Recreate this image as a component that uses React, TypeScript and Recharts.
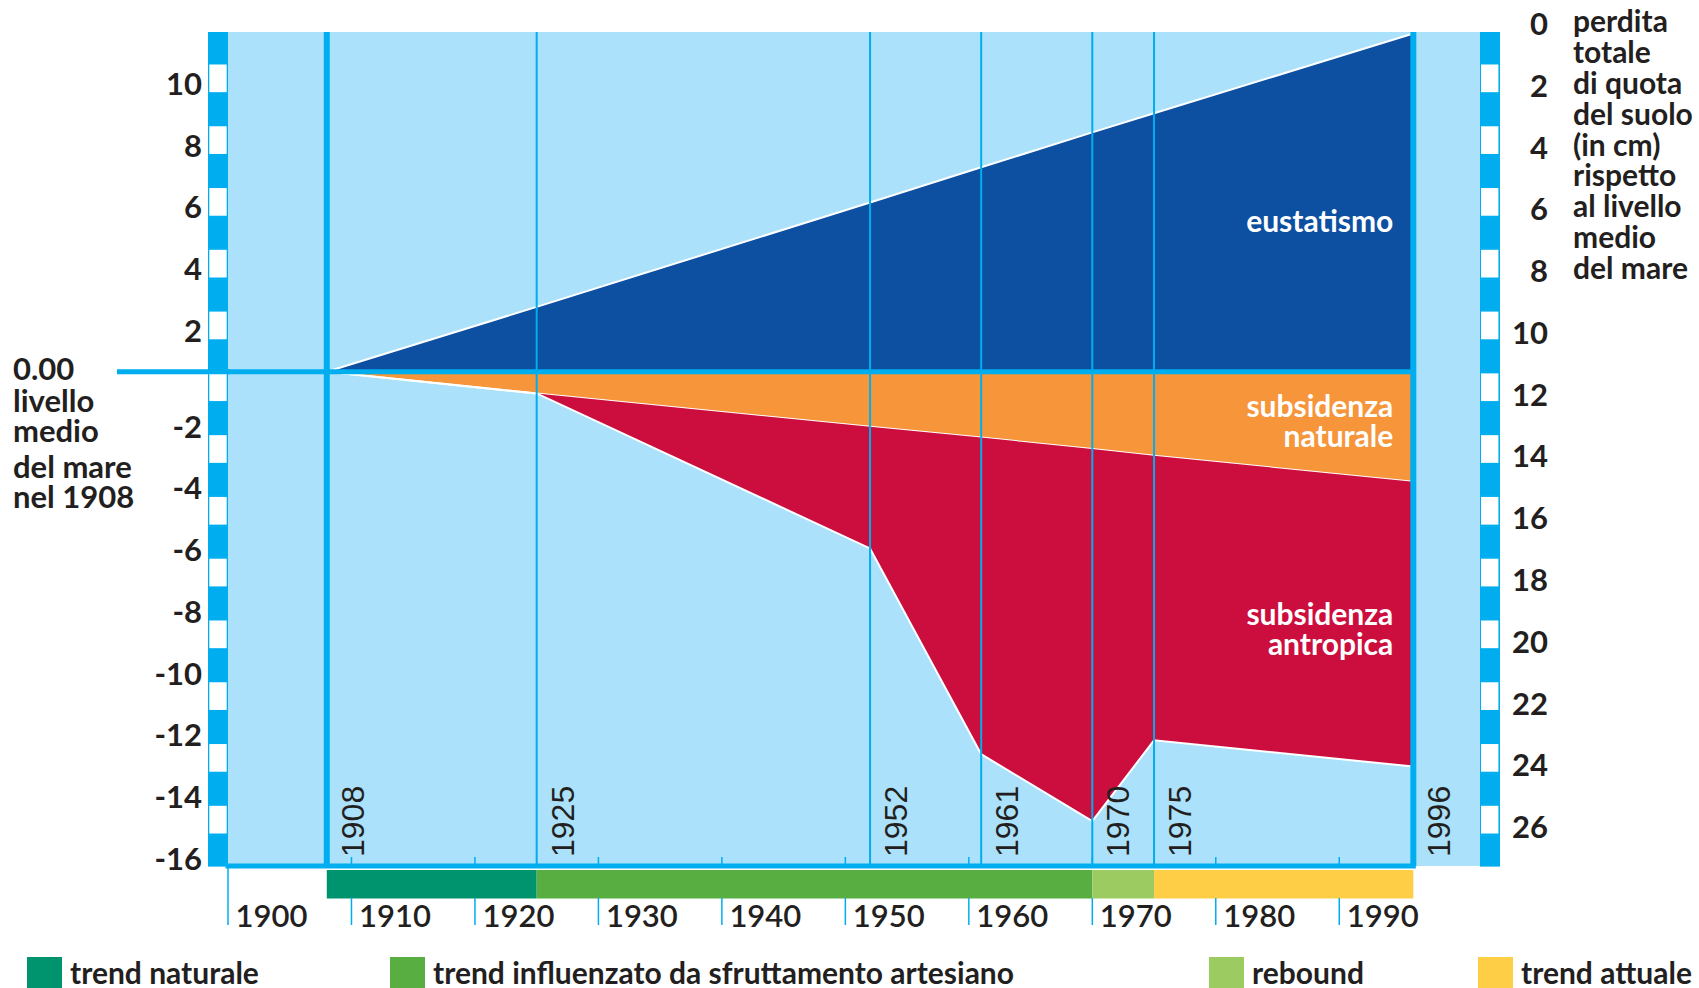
import React from 'react';
import {
  ComposedChart,
  Area,
  XAxis,
  YAxis,
  CartesianGrid,
  ReferenceLine,
  ReferenceArea,
  ReferenceDot,
} from 'recharts';

// ---------------- data ----------------
const YEARS = [1908, 1925, 1952, 1961, 1970, 1975, 1996];
const EUSTATISMO = [0, 2.1, 5.48, 6.62, 7.75, 8.37, 10.95];
const SUBS_NATURALE = [0, -0.7, -1.78, -2.13, -2.5, -2.72, -3.56];
const SUBS_ANTROPICA = [0, 0, -3.94, -10.25, -12.05, -9.21, -9.22];

const X_TICKS = [1900, 1910, 1920, 1930, 1940, 1950, 1960, 1970, 1980, 1990];
const LEFT_TICKS = [10, 8, 6, 4, 2, 0, -2, -4, -6, -8, -10, -12, -14, -16];
const RIGHT_TICKS = [0, 2, 4, 6, 8, 10, 12, 14, 16, 18, 20, 22, 24, 26];
const STRIPE_TICKS = [-16, -15, -14, -13, -12, -11, -10, -9, -8, -7, -6, -5, -4, -3, -2, -1, 0, 1, 2, 3, 4, 5, 6, 7, 8, 9, 10];
const ZERO_LABEL_LINES = ['0.00', 'livello', 'medio', 'del mare', 'nel 1908'];
const RIGHT_TITLE_LINES = ['perdita', 'totale', 'di quota', 'del suolo', '(in cm)', 'rispetto', 'al livello', 'medio', 'del mare'];
const MARKED_YEARS = [1908, 1925, 1952, 1961, 1970, 1975, 1996];
const THICK_YEARS = [1908, 1996];

const SERIES_LABELS = [['eustatismo'], ['subsidenza', 'naturale'], ['subsidenza', 'antropica']];

const PERIOD_LABELS = ['trend naturale', 'trend influenzato da sfruttamento artesiano', 'rebound', 'trend attuale'];
const PERIOD_START = [1908, 1925, 1970, 1975];
const PERIOD_END = [1925, 1970, 1975, 1996];

// ---------------- layout / style ----------------
const CW = 1699;
const CH = 988;
const TOP = 32;
const XAXIS_H = 122;
const Y_MIN = -16;
const Y_MAX = 11;
const X_MIN = 1900;
const X_MAX = 2001.4;
const UNIT = (CH - TOP - XAXIS_H) / (Y_MAX - Y_MIN);
const SERIES_LABEL_Y = [4.54, -1.45, -8.2];
const BAR_Y = [-16.13, -17.05];
const LEGEND_LEFT = [27, 390, 1209, 1478];

const FONT = "Lato, 'Noto Sans', sans-serif";
const TEXT = '#231F20';
const LIGHT = '#ABE1FA';
const CYAN = '#00AEEF';
const BLUE = '#0D4FA1';
const ORANGE = '#F6953A';
const RED = '#CC0E3E';
const PERIOD_COLORS = ['#00946E', '#58AE41', '#9CCB61', '#FFCE47'];

// ---------------- tick renderers ----------------
const StripeTick = (props: any) => {
  const { x, y, payload, side } = props;
  const v = payload.value;
  const white = Math.abs(v) % 2 === 1;
  const x0 = side === 'left' ? x - 20 : x;
  const inset = side === 'left' ? 1.3 : 1;
  return (
    <g>
      <rect x={x0} y={y - UNIT} width={20} height={UNIT + 0.6} fill={CYAN} />
      {white && <rect x={x0 + inset} y={y - UNIT + 1.6} width={17.4} height={UNIT - 3.2} fill="#fff" />}
    </g>
  );
};

const LeftLabelTick = (props: any) => {
  const { x, y, payload } = props;
  const v = payload.value;
  if (v === 0) {
    const offs = [8.2, 40.2, 69.9, 106.5, 136.5];
    return (
      <g>
        <line x1={x - 91} x2={x + 22} y1={y} y2={y} stroke={CYAN} strokeWidth={5} />
        {ZERO_LABEL_LINES.map((t, i) => (
          <text key={t} x={x - 195} y={y + offs[i]} fontFamily={FONT} fontWeight={700} fontSize={31} fill={TEXT}>
            {t}
          </text>
        ))}
      </g>
    );
  }
  return (
    <text x={x - 6} y={y + (v > 0 ? 32 : 4)} textAnchor="end" fontFamily={FONT} fontWeight={700} fontSize={31} fill={TEXT}>
      {String(v)}
    </text>
  );
};

const RightLabelTick = (props: any) => {
  const { x, y, payload } = props;
  const v = payload.value;
  return (
    <g>
      <text x={x + 48} y={y + 3} textAnchor="end" fontFamily={FONT} fontWeight={700} fontSize={31} fill={TEXT}>
        {String(v)}
      </text>
      {v === 0 &&
        RIGHT_TITLE_LINES.map((t, i) => (
          <text key={t} x={x + 73} y={y - 0.3 + i * 30.95} fontFamily={FONT} fontWeight={700} fontSize={30} fill={TEXT}>
            {t}
          </text>
        ))}
    </g>
  );
};

const XTick = (props: any) => {
  const { x, y, payload } = props;
  const v = payload.value;
  const inBar = v >= PERIOD_START[0] && v <= PERIOD_END[PERIOD_END.length - 1];
  return (
    <g>
      {v !== X_TICKS[0] && <line x1={x} x2={x} y1={y - 9} y2={y} stroke={CYAN} strokeWidth={1.5} />}
      <line x1={x} x2={x} y1={inBar ? y + 32 : y} y2={y + 59} stroke={CYAN} strokeWidth={1.5} />
      <text x={x + 7.5} y={y + 61.3} fontFamily={FONT} fontWeight={600} fontSize={31} fill={TEXT}>
        {String(v)}
      </text>
    </g>
  );
};

const YearLabel = (props: any) => {
  const vb = props.viewBox || {};
  const bx = vb.x + 37;
  const by = vb.y + vb.height - 9;
  return (
    <text
      x={bx}
      y={by}
      transform={`rotate(-90, ${bx}, ${by})`}
      fontFamily="'Liberation Sans', Arial, sans-serif"
      fontSize={32}
      fill={TEXT}
    >
      {props.text}
    </text>
  );
};

const SeriesLabel = (props: any) => {
  const vb = props.viewBox || {};
  const lines: string[] = props.lines;
  return (
    <text x={vb.x - 20} y={vb.y} textAnchor="end" fontFamily={FONT} fontWeight={700} fontSize={30} fill="#fff">
      {lines.map((t, i) => (
        <tspan key={i} x={vb.x - 20} dy={i === 0 ? 0 : 30}>
          {t}
        </tspan>
      ))}
    </text>
  );
};

export default function App() {
  const data = YEARS.map((year, i) => ({
    year,
    eustatismo: EUSTATISMO[i],
    naturale: SUBS_NATURALE[i],
    antropica: SUBS_ANTROPICA[i],
  }));

  return (
    <div style={{ position: 'absolute', left: 0, top: 0, width: CW, height: CH, background: '#fff', fontFamily: FONT }}>
      <ComposedChart width={CW} height={CH} data={data} margin={{ top: TOP, right: 0, bottom: 0, left: 0 }}>
        <CartesianGrid yAxisId="l" fill={LIGHT} stroke="none" horizontal={false} vertical={false} />
        <XAxis
          dataKey="year"
          type="number"
          domain={[X_MIN, X_MAX]}
          ticks={X_TICKS}
          interval={0}
          allowDataOverflow
          height={XAXIS_H}
          axisLine={false}
          tickLine={false}
          tickSize={0}
          tickMargin={0}
          tick={(p: any) => <XTick {...p} />}
        />
        <YAxis
          yAxisId="l"
          orientation="left"
          width={20}
          domain={[Y_MIN, Y_MAX]}
          ticks={STRIPE_TICKS}
          interval={0}
          allowDataOverflow
          axisLine={false}
          tickLine={false}
          tickSize={0}
          tickMargin={0}
          tick={(p: any) => <StripeTick {...p} side="left" />}
        />
        <YAxis
          yAxisId="lbl"
          orientation="left"
          width={208}
          domain={[Y_MIN, Y_MAX]}
          ticks={LEFT_TICKS}
          interval={0}
          allowDataOverflow
          axisLine={false}
          tickLine={false}
          tickSize={0}
          tickMargin={0}
          tick={(p: any) => <LeftLabelTick {...p} />}
        />
        <YAxis
          yAxisId="rb"
          orientation="right"
          width={199}
          domain={[0, Y_MAX - Y_MIN]}
          reversed
          ticks={RIGHT_TICKS}
          interval={0}
          allowDataOverflow
          axisLine={false}
          tickLine={false}
          tickSize={0}
          tickMargin={0}
          tick={(p: any) => <RightLabelTick {...p} />}
        />
        <YAxis
          yAxisId="ra"
          orientation="right"
          width={20}
          domain={[Y_MIN, Y_MAX]}
          ticks={STRIPE_TICKS}
          interval={0}
          allowDataOverflow
          axisLine={false}
          tickLine={false}
          tickSize={0}
          tickMargin={0}
          tick={(p: any) => <StripeTick {...p} side="right" />}
        />

        <Area
          yAxisId="l"
          type="linear"
          dataKey="eustatismo"
          fill={BLUE}
          fillOpacity={1}
          stroke="#fff"
          strokeWidth={2}
          dot={false}
          activeDot={false}
          isAnimationActive={false}
        />
        <Area
          yAxisId="l"
          type="linear"
          stackId="sub"
          dataKey="naturale"
          fill={ORANGE}
          fillOpacity={1}
          stroke="#fff"
          strokeWidth={2}
          dot={false}
          activeDot={false}
          isAnimationActive={false}
        />
        <Area
          yAxisId="l"
          type="linear"
          stackId="sub"
          dataKey="antropica"
          fill={RED}
          fillOpacity={1}
          stroke="#fff"
          strokeWidth={2}
          dot={false}
          activeDot={false}
          isAnimationActive={false}
        />

        {PERIOD_LABELS.map((label, i) => (
          <ReferenceArea
            key={label}
            yAxisId="l"
            x1={PERIOD_START[i]}
            x2={PERIOD_END[i]}
            y1={BAR_Y[0]}
            y2={BAR_Y[1]}
            fill={PERIOD_COLORS[i]}
            fillOpacity={1}
            stroke="none"
            ifOverflow="visible"
          />
        ))}

        <ReferenceLine
          yAxisId="l"
          segment={[{ x: X_MIN, y: 0 }, { x: YEARS[YEARS.length - 1], y: 0 }]}
          stroke={CYAN}
          strokeWidth={5}
          ifOverflow="visible"
        />
        <ReferenceLine
          yAxisId="l"
          segment={[{ x: X_MIN, y: Y_MIN }, { x: YEARS[YEARS.length - 1], y: Y_MIN }]}
          stroke={CYAN}
          strokeWidth={5}
          strokeLinecap="square"
          ifOverflow="visible"
        />
        {MARKED_YEARS.map((yr) => (
          <ReferenceLine
            key={yr}
            yAxisId="l"
            x={yr}
            stroke={CYAN}
            strokeWidth={THICK_YEARS.includes(yr) ? 6 : 2}
            ifOverflow="visible"
            label={(p: any) => <YearLabel {...p} text={String(yr)} />}
          />
        ))}
        {SERIES_LABELS.map((lines, i) => (
          <ReferenceDot
            key={i}
            yAxisId="l"
            x={YEARS[YEARS.length - 1]}
            y={SERIES_LABEL_Y[i]}
            r={0}
            fill="none"
            stroke="none"
            label={(p: any) => <SeriesLabel {...p} lines={lines} />}
          />
        ))}
      </ComposedChart>

      {PERIOD_LABELS.map((label, i) => (
        <div
          key={label}
          style={{ position: 'absolute', left: LEGEND_LEFT[i], top: 957, height: 31, display: 'flex', alignItems: 'flex-start' }}
        >
          <div style={{ width: 35, height: 31, background: PERIOD_COLORS[i] }} />
          <span
            style={{
              marginLeft: 8,
              fontSize: 30,
              lineHeight: '31px',
              fontWeight: 700,
              color: TEXT,
              whiteSpace: 'nowrap',
              fontFamily: FONT,
            }}
          >
            {label}
          </span>
        </div>
      ))}
    </div>
  );
}
